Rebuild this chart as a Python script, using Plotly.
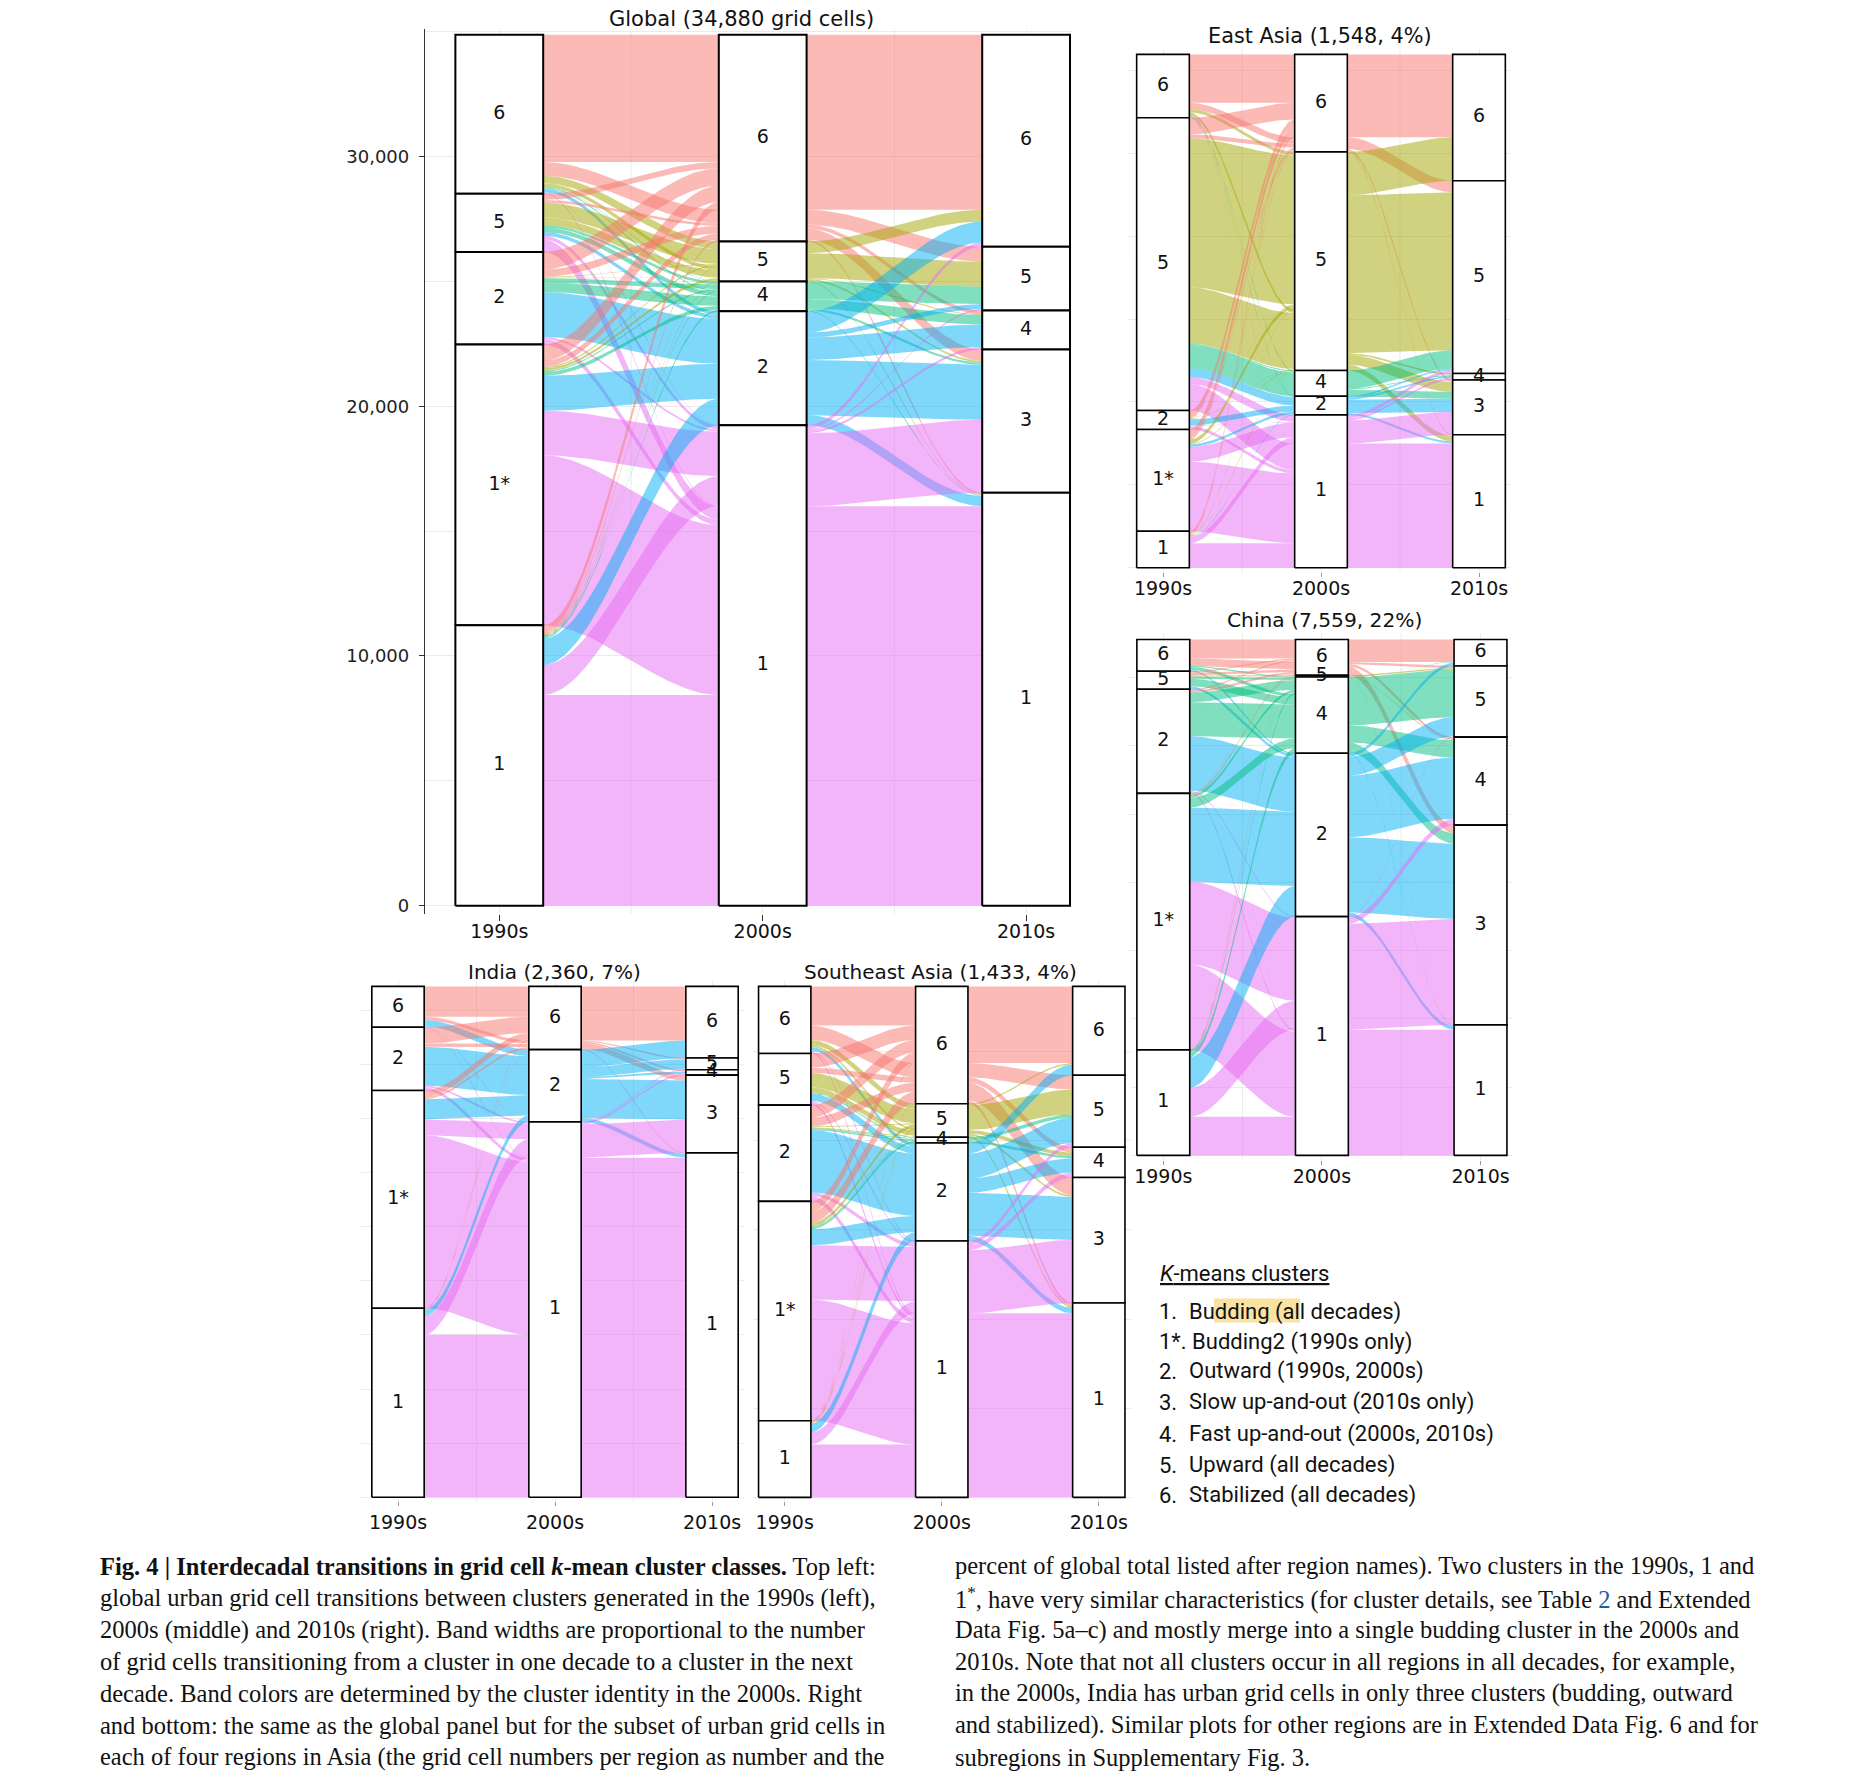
import numpy as np
import plotly.graph_objects as go

W, H = 1855, 1792
DECADES = ["1990s", "2000s", "2010s"]

# ---------------- data (grid cells) ----------------
# cluster order top -> bottom for each decade; matrices rows = earlier decade, cols = later decade
# *_stay: of the 1990s->2000s cells, how many keep the same 2000s cluster in the 2010s
global_c90 = ["6", "5", "2", "1*", "1"]
global_c00 = ["6", "5", "4", "2", "1"]
global_c10 = ["6", "5", "4", "3", "1"]
global_90_00 = [
    [5650, 450, 60, 150, 60],
    [350, 900, 280, 150, 650],
    [1000, 50, 560, 1800, 300],
    [900, 150, 200, 1400, 8590],
    [380, 50, 100, 1060, 9640],
]
global_stay = [
    [5100, 300, 20, 0, 40],
    [250, 600, 100, 0, 500],
    [700, 30, 180, 0, 220],
    [650, 50, 50, 0, 6800],
    [310, 20, 30, 0, 8440],
]
global_00_10 = [
    [7010, 600, 150, 450, 70],
    [470, 1000, 30, 70, 30],
    [0, 700, 380, 90, 30],
    [850, 200, 900, 2200, 410],
    [160, 60, 100, 2920, 16000],
]

eastasia_c90 = ["6", "5", "2", "1*", "1"]
eastasia_c00 = ["6", "5", "4", "2", "1"]
eastasia_c10 = ["6", "5", "4", "3", "1"]
eastasia_90_00 = [
    [165, 20, 3, 2, 1],
    [62, 619, 75, 26, 101],
    [25, 2, 0, 18, 12],
    [30, 15, 0, 8, 254],
    [12, 3, 0, 2, 93],
]
eastasia_stay = [
    [146, 10, 0, 0, 1],
    [50, 450, 3, 0, 80],
    [22, 1, 0, 0, 10],
    [24, 13, 0, 0, 210],
    [8, 2, 0, 0, 74],
]
eastasia_00_10 = [
    [250, 35, 0, 6, 3],
    [131, 476, 5, 30, 17],
    [0, 55, 3, 20, 0],
    [0, 5, 5, 40, 6],
    [0, 10, 7, 69, 375],
]

china_c90 = ["6", "5", "2", "1*", "1"]
china_c00 = ["6", "5", "4", "2", "1"]
china_c10 = ["6", "5", "4", "3", "1"]
china_90_00 = [
    [386, 0, 60, 20, 0],
    [60, 20, 140, 40, 3],
    [50, 0, 636, 800, 40],
    [20, 7, 180, 1084, 2466],
    [7, 0, 100, 450, 990],
]
china_stay = [
    [280, 0, 15, 0, 0],
    [20, 14, 30, 0, 2],
    [20, 0, 140, 0, 25],
    [7, 6, 40, 0, 1250],
    [3, 0, 25, 0, 565],
]
china_00_10 = [
    [330, 30, 40, 120, 3],
    [0, 20, 7, 0, 0],
    [8, 700, 250, 150, 8],
    [50, 280, 900, 1104, 60],
    [0, 12, 92, 1553, 1842],
]

india_c90 = ["6", "2", "1*", "1"]
india_c00 = ["6", "2", "1"]
india_c10 = ["6", "5", "4", "3", "1"]
india_90_00 = [
    [155, 30, 4],
    [90, 180, 22],
    [40, 94, 872],
    [7, 30, 836],
]
india_stay = [
    [140, 0, 3],
    [75, 0, 15],
    [30, 0, 800],
    [5, 0, 751],
]
india_00_10 = [
    [250, 5, 8, 25, 4],
    [81, 45, 10, 180, 18],
    [0, 4, 7, 154, 1569],
]

seasia_c90 = ["6", "5", "2", "1*", "1"]
seasia_c00 = ["6", "5", "4", "2", "1"]
seasia_c10 = ["6", "5", "4", "3", "1"]
seasia_90_00 = [
    [150, 20, 0, 10, 8],
    [55, 55, 3, 20, 12],
    [60, 5, 5, 175, 25],
    [60, 10, 8, 45, 492],
    [4, 4, 0, 25, 182],
]
seasia_stay = [
    [110, 15, 0, 0, 5],
    [40, 40, 2, 0, 8],
    [35, 3, 2, 0, 15],
    [28, 9, 2, 0, 340],
    [2, 3, 0, 0, 148],
]
seasia_00_10 = [
    [215, 40, 15, 50, 9],
    [4, 70, 10, 5, 5],
    [0, 10, 6, 0, 0],
    [30, 70, 40, 120, 15],
    [0, 12, 14, 177, 516],
]

panel_titles = ["Global (34,880 grid cells)", "East Asia (1,548, 4%)", "China (7,559, 22%)",
                "India (2,360, 7%)", "Southeast Asia (1,433, 4%)"]

legend_title = "<u><i>K</i>-means clusters</u>"
legend_nums = ["1.", "", "2.", "3.", "4.", "5.", "6."]
legend_texts = ["Budding (all decades)", "1*. Budding2 (1990s only)", "Outward (1990s, 2000s)",
                "Slow up-and-out (2010s only)", "Fast up-and-out (2000s, 2010s)",
                "Upward (all decades)", "Stabilized (all decades)"]

caption_left = [
    "<b>Fig. 4 | Interdecadal transitions in grid cell <i>k</i>-mean cluster classes.</b> Top left:",
    "global urban grid cell transitions between clusters generated in the 1990s (left),",
    "2000s (middle) and 2010s (right). Band widths are proportional to the number",
    "of grid cells transitioning from a cluster in one decade to a cluster in the next",
    "decade. Band colors are determined by the cluster identity in the 2000s. Right",
    "and bottom: the same as the global panel but for the subset of urban grid cells in",
    "each of four regions in Asia (the grid cell numbers per region as number and the",
]
caption_right = [
    "percent of global total listed after region names). Two clusters in the 1990s, 1 and",
    "1<sup>*</sup>, have very similar characteristics (for cluster details, see Table <span style='color:#1d5d9b'>2</span> and Extended",
    "Data Fig. 5a\u2013c) and mostly merge into a single budding cluster in the 2000s and",
    "2010s. Note that not all clusters occur in all regions in all decades, for example,",
    "in the 2000s, India has urban grid cells in only three clusters (budding, outward",
    "and stabilized). Similar plots for other regions are in Extended Data Fig. 6 and for",
    "subregions in Supplementary Fig. 3.",
]

# ---------------- styling ----------------
CLUSTER_COLORS = {"6": "#F8766D", "5": "#A3A500", "4": "#00BF7D", "2": "#00B0F6", "1": "#E76BF3"}
GRID = "#EBEBEB"
OFF = 8  # page body margin
PFONT = "DejaVu Sans"


def rgba(hexc, a):
    h = hexc.lstrip("#")
    return f"rgba({int(h[0:2],16)},{int(h[2:4],16)},{int(h[4:6],16)},{a})"


def pxx(p):
    return (p - OFF) / W


def pxy(p):
    return 1 - (p - OFF) / H


panels = [
    dict(key="", c=(global_c90, global_c00, global_c10), f=(global_90_00, global_00_10),
         stay=global_stay,
         xpx=(425, 1073), xr=(0.718, 3.178), ypx=(29, 915), yr=(-332, 35108), ydt=5000,
         tpx=(741, 19), fs=19, tfs=21, lw=2.0, stand=-6),
    dict(key="2", c=(eastasia_c90, eastasia_c00, eastasia_c10), f=(eastasia_90_00, eastasia_00_10),
         stay=eastasia_stay,
         xpx=(1128, 1511), xr=(0.7785, 3.2025), ypx=(49, 573), yr=(-13.9, 1564.5), ydt=250,
         tpx=(1320, 36), fs=19, tfs=20.8, lw=1.6, stand=-5),
    dict(key="3", c=(china_c90, china_c00, china_c10), f=(china_90_00, china_00_10),
         stay=china_stay,
         xpx=(1128, 1512), xr=(0.7774, 3.1986), ypx=(634, 1161), yr=(-63, 7650), ydt=1000,
         tpx=(1324, 621), fs=19, tfs=20.2, lw=1.6, stand=-5),
    dict(key="4", c=(india_c90, india_c00, india_c10), f=(india_90_00, india_00_10),
         stay=india_stay,
         xpx=(360, 745), xr=(0.758, 3.21), ypx=(982, 1503), yr=(-18.5, 2385.3), ydt=250,
         tpx=(554, 973), fs=19, tfs=20, lw=1.6, stand=0),
    dict(key="5", c=(seasia_c90, seasia_c00, seasia_c10), f=(seasia_90_00, seasia_00_10),
         stay=seasia_stay,
         xpx=(753, 1131), xr=(0.798, 3.205), ypx=(982, 1503), yr=(-11.2, 1448.4), ydt=250,
         tpx=(941, 973), fs=19, tfs=20, lw=1.6, stand=0),
]


def stack(order, counts):
    pos, y = {}, 0
    for k in reversed(order):
        pos[k] = (y, y + counts[k])
        y += counts[k]
    return pos


def smooth(t):
    return 3 * t ** 2 - 2 * t ** 3


fig = go.Figure()
annotations = []
shapes = []
HALF = 1 / 6
T = np.linspace(0, 1, 60)

for pi, p in enumerate(panels):
    xa, ya = "x" + p["key"], "y" + p["key"]
    c90, c00, c10 = p["c"]
    fa, fb = p["f"]
    S = p["stay"]
    n90 = {a: sum(fa[i]) for i, a in enumerate(c90)}
    n00 = {b: sum(fa[i][j] for i in range(len(c90))) for j, b in enumerate(c00)}
    n10 = {c: sum(fb[i][j] for i in range(len(c00))) for j, c in enumerate(c10)}
    orders = [c90, c00, c10]
    pos = [stack(c90, n90), stack(c00, n00), stack(c10, n10)]

    # flows
    for s, (A, B, M) in enumerate([(c90, c00, fa), (c00, c10, fb)]):
        lodes = []  # (i, j, group, n)
        for i, a in enumerate(A):
            for j, b in enumerate(B):
                n = M[i][j]
                if n <= 0:
                    continue
                if s == 0:
                    st = S[i][j] if b in c10 else 0
                    ch = n - st
                    parts = [ch, st] if b == "1" else [st, ch]
                else:
                    parts = [n]
                for g, m in enumerate(parts):
                    if m > 0:
                        lodes.append((i, j, g, m))
        pa, pb = pos[s], pos[s + 1]
        cur_a = {a: pa[a][1] for a in A}
        cur_b = {b: pb[b][1] for b in B}
        ys, yd = {}, {}
        for (i, j, g, m) in sorted(lodes, key=lambda l: (l[0], l[1], l[2])):
            a = A[i]
            ys[(i, j, g)] = (cur_a[a] - m, cur_a[a])
            cur_a[a] -= m
        for (i, j, g, m) in sorted(lodes, key=lambda l: (l[1], l[2], l[0])):
            b = B[j]
            yd[(i, j, g)] = (cur_b[b] - m, cur_b[b])
            cur_b[b] -= m
        x0, x1 = (s + 1) + HALF, (s + 2) - HALF
        xs = x0 + (x1 - x0) * T
        for (i, j, g, m) in lodes:
            sb, st_ = ys[(i, j, g)]
            db, dt = yd[(i, j, g)]
            top = st_ + (dt - st_) * smooth(T)
            bot = sb + (db - sb) * smooth(T)
            col = CLUSTER_COLORS[B[j]] if s == 0 else CLUSTER_COLORS[A[i]]
            fig.add_trace(go.Scatter(
                x=np.concatenate([xs, xs[::-1]]), y=np.concatenate([top, bot[::-1]]),
                mode="lines", fill="toself", fillcolor=rgba(col, 0.5),
                line=dict(width=0, color="rgba(0,0,0,0)"), hoverinfo="skip",
                xaxis=xa, yaxis=ya))

    # strata boxes + labels
    lx, ly, lt = [], [], []
    for d in range(3):
        for k in orders[d]:
            lo, hi = pos[d][k]
            if hi - lo <= 0:
                continue
            fig.add_trace(go.Scatter(
                x=[d + 1 - HALF, d + 1 + HALF, d + 1 + HALF, d + 1 - HALF, d + 1 - HALF],
                y=[lo, lo, hi, hi, lo], mode="lines", fill="toself", fillcolor="white",
                line=dict(color="black", width=p["lw"]), hoverinfo="skip",
                xaxis=xa, yaxis=ya))
            lx.append(d + 1)
            ly.append((lo + hi) / 2)
            lt.append(k)
    fig.add_trace(go.Scatter(x=lx, y=ly, text=lt, mode="text", textposition="middle center",
                             textfont=dict(family=PFONT, size=p["fs"], color="#111"),
                             hoverinfo="skip", xaxis=xa, yaxis=ya))

    # half-way vertical grid lines
    for gx in (1.5, 2.5):
        shapes.append(dict(type="line", xref=xa, yref=ya + " domain", x0=gx, x1=gx, y0=0, y1=1,
                           line=dict(color=GRID, width=1), layer="below"))

    is_global = p["key"] == ""
    xaxis = dict(domain=[pxx(p["xpx"][0]), pxx(p["xpx"][1])], range=list(p["xr"]),
                 anchor=ya, tickmode="array", tickvals=[1, 2, 3], ticktext=DECADES,
                 ticks="outside", ticklen=6 if is_global else 4,
                 tickcolor="#333" if is_global else "#999",
                 ticklabelstandoff=p["stand"],
                 tickfont=dict(family=PFONT, size=p["fs"], color="#111"),
                 showgrid=True, gridcolor=GRID, gridwidth=1, zeroline=False, showline=False,
                 fixedrange=True)
    yaxis = dict(domain=[pxy(p["ypx"][1]), pxy(p["ypx"][0])], range=list(p["yr"]),
                 anchor=xa, showgrid=True, gridcolor=GRID, zeroline=False, fixedrange=True)
    if is_global:
        yaxis.update(tickmode="linear", tick0=0, dtick=10000, tickformat=",",
                     ticks="outside", ticklen=5, tickcolor="#333",
                     showline=True, linecolor="#333", linewidth=1.3,
                     ticklabelstandoff=6,
                     tickfont=dict(family=PFONT, size=18, color="#222"),
                     minor=dict(dtick=p["ydt"], showgrid=True, gridcolor=GRID, ticks=""))
    else:
        yaxis.update(tickmode="linear", tick0=0, dtick=p["ydt"], showticklabels=False,
                     ticks="", showline=False)
    fig.update_layout(**{"xaxis" + p["key"]: xaxis, "yaxis" + p["key"]: yaxis})

    annotations.append(dict(x=pxx(p["tpx"][0]), y=pxy(p["tpx"][1]), xref="paper", yref="paper",
                            text=panel_titles[pi], showarrow=False, xanchor="center",
                            yanchor="middle",
                            font=dict(family=PFONT, size=p["tfs"], color="#111")))

# legend block
LFONT = dict(family="Roboto", size=22, color="#111")
annotations.append(dict(x=pxx(1158), y=pxy(1275), xref="paper", yref="paper", text=legend_title,
                        showarrow=False, xanchor="left", yanchor="middle", font=LFONT))
legend_y = [1313, 1343, 1373, 1404, 1436, 1467, 1497]
for num, txt, yy in zip(legend_nums, legend_texts, legend_y):
    if num:
        annotations.append(dict(x=pxx(1157), y=pxy(yy), xref="paper", yref="paper", text=num,
                                showarrow=False, xanchor="left", yanchor="middle", font=LFONT))
        tx = 1187
    else:
        tx = 1157
    annotations.append(dict(x=pxx(tx), y=pxy(yy), xref="paper", yref="paper", text=txt,
                            showarrow=False, xanchor="left", yanchor="middle", font=LFONT))
shapes.append(dict(type="rect", xref="paper", yref="paper", x0=pxx(1214), x1=pxx(1300),
                   y0=pxy(1324), y1=pxy(1300), fillcolor="#F9E2A2", line=dict(width=0),
                   layer="below"))

# caption
CFONT = dict(family="Liberation Serif", size=24.5, color="#111")
cap_y = [1568, 1600, 1632, 1663, 1695, 1727, 1759]
for txt, yy in zip(caption_left, cap_y):
    annotations.append(dict(x=pxx(98), y=pxy(yy), xref="paper", yref="paper", text=txt,
                            showarrow=False, xanchor="left", yanchor="middle", font=CFONT))
for txt, yy in zip(caption_right, cap_y):
    annotations.append(dict(x=pxx(953), y=pxy(yy), xref="paper", yref="paper", text=txt,
                            showarrow=False, xanchor="left", yanchor="middle", font=CFONT))

fig.update_layout(
    width=W, height=H, margin=dict(l=0, r=0, t=0, b=0),
    paper_bgcolor="white", plot_bgcolor="white", showlegend=False,
    annotations=annotations, shapes=shapes,
)

fig.write_html("out.html")
